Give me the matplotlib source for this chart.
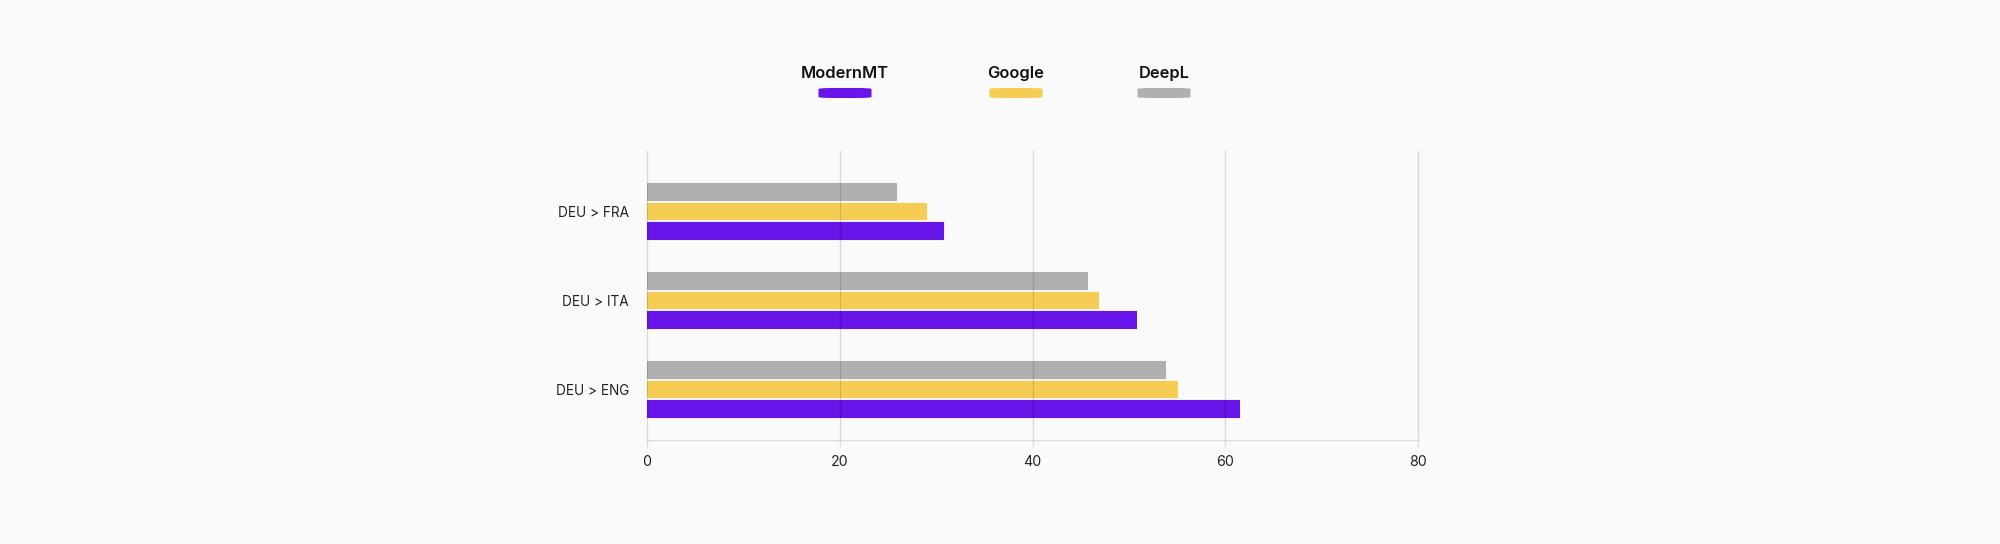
import matplotlib
matplotlib.use("Agg")
import matplotlib.pyplot as plt
from matplotlib.patches import FancyBboxPatch
import numpy as np

# ---- data ----
categories = ["DEU > FRA", "DEU > ITA", "DEU > ENG"]
series_names = ["DeepL", "Google", "ModernMT"]  # top to bottom inside each group
deepl = [25.8, 45.7, 53.7]
google = [28.9, 46.8, 55.0]
modernmt = [30.7, 50.7, 61.4]
x_ticks = [0, 20, 40, 60, 80]

colors = {"ModernMT": "#6715E8", "Google": "#F6CD52", "DeepL": "#B0B0B0"}
legend_order = ["ModernMT", "Google", "DeepL"]

plt.rcParams['font.family'] = ['Inter', 'DejaVu Sans']

W, H = 2000, 544
fig = plt.figure(figsize=(W / 100, H / 100), dpi=100)
fig.patch.set_facecolor("#FAFAFA")

left_px, right_px, top_px, bottom_px = 647, 1418, 150.7, 440
ax = fig.add_axes([left_px / W, 1 - bottom_px / H,
                   (right_px - left_px) / W, (bottom_px - top_px) / H])
ax.set_facecolor("#FAFAFA")

ypos = np.arange(len(categories))
bar_h = 0.185
step = 0.219
values = {"DeepL": deepl, "Google": google, "ModernMT": modernmt}
offsets = {"DeepL": -step, "Google": 0.0, "ModernMT": step}
for name in series_names:
    ax.barh(ypos + offsets[name], values[name], height=bar_h,
            color=colors[name], edgecolor=colors[name], linewidth=0.8,
            joinstyle="round", zorder=2)

ax.set_xlim(0, 80)
ax.set_ylim(2.573, -0.678)
ax.set_xticks(x_ticks)
ax.set_xticklabels([str(t) for t in x_ticks])
ax.set_yticks(ypos)
ax.set_yticklabels(categories)

for s in ["top", "right", "left"]:
    ax.spines[s].set_visible(False)
ax.spines["bottom"].set_color("#DDDDDD")
ax.spines["bottom"].set_linewidth(1.0)
ax.tick_params(axis="x", length=5, width=1.0, color="#DDDDDD", pad=6,
               labelsize=10.2, labelcolor="#222222")
ax.tick_params(axis="y", length=0, pad=13, labelsize=9.8, labelcolor="#222222")
ax.set_axisbelow(False)
ax.xaxis.grid(True, color="black", alpha=0.13, linewidth=1.0, zorder=3)
for gl in ax.get_xgridlines():
    gl.set_clip_on(False)

# ---- legend (text above a rounded pill) ----
leg_centers = [845, 1016, 1164]
for name, cx in zip(legend_order, leg_centers):
    fig.text(cx / W, 1 - 73.5 / H, name, ha="center", va="center",
             fontsize=11.8, fontweight="semibold", color="#111111")
    pw, ph = 53, 10
    pill = FancyBboxPatch(((cx - pw / 2) / W, 1 - (93 + ph / 2) / H),
                          pw / W, ph / H,
                          boxstyle="round,pad=0,rounding_size=%f" % (4 / H),
                          mutation_aspect=H / W,
                          transform=fig.transFigure, facecolor=colors[name],
                          edgecolor="none")
    fig.patches.append(pill)

fig.savefig("out.png", dpi=100, facecolor=fig.get_facecolor())
